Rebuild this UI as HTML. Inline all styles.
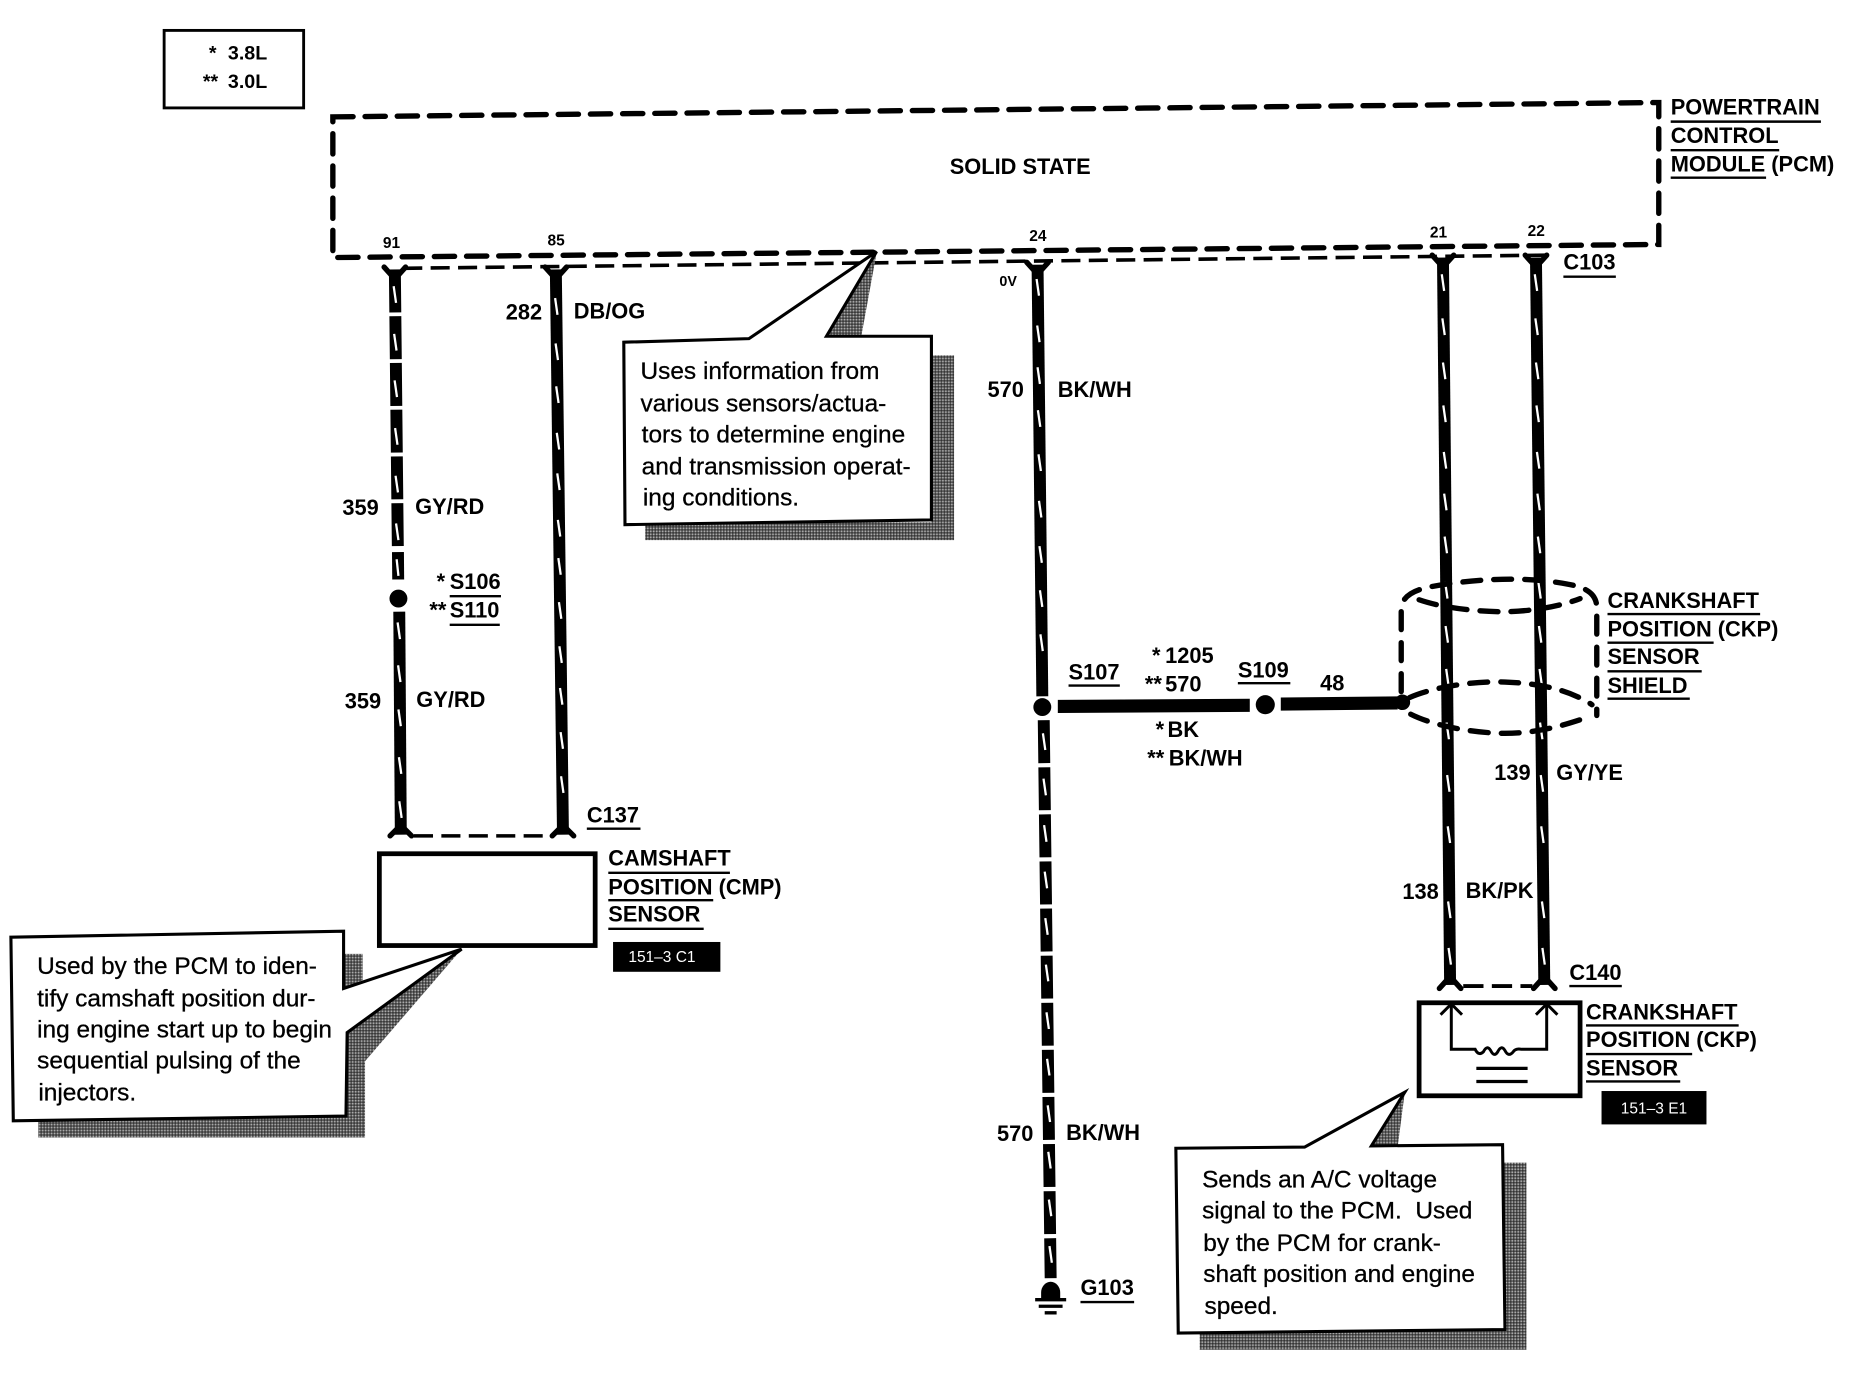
<!DOCTYPE html>
<html><head><meta charset="utf-8"><title>Crankshaft and Camshaft Position Sensor Wiring</title>
<style>
html,body{margin:0;padding:0;background:#fff}
svg{display:block}
text{font-family:"Liberation Sans",Arial,sans-serif;fill:#000}
.b{font-weight:bold;font-size:18.3px}
.r{font-size:20.5px;stroke:#000;stroke-width:.25}
.p{font-weight:bold;font-size:13px}
.w{fill:#fff;font-size:13px}
.u{stroke:#000;stroke-width:2;fill:none}
.wire{stroke:#000;stroke-width:10;fill:none}
.sl{stroke:#fff;stroke-width:1.9;fill:none}
.pcm{stroke:#000;stroke-width:4.5;fill:none;stroke-dasharray:17 10;stroke-linecap:round}
.thin{stroke:#000;stroke-width:3;fill:none;stroke-dasharray:16 7}
.sh{stroke:#000;stroke-width:4.5;fill:none;stroke-dasharray:15 11;stroke-linecap:round}
.j{stroke:#000;stroke-width:4.5;fill:none;stroke-linecap:round}
.box{stroke:#000;stroke-width:2.6;fill:#fff}
</style></head><body>
<svg xmlns="http://www.w3.org/2000/svg" width="1870" height="1376" viewBox="0 0 1568 1154">
<defs>
<pattern id="d" width="2.5" height="2.5" patternUnits="userSpaceOnUse">
<rect width="2.5" height="2.5" fill="#555"/><rect width="1.25" height="1.25" fill="#aaa"/><rect x="1.25" y="1.25" width="1.25" height="1.25" fill="#333"/>
</pattern>
</defs>
<rect width="1568" height="1154" fill="#fff"/>

<!-- legend -->
<rect x="137.500" y="25.500" width="117" height="65" fill="none" stroke="#000" stroke-width="2.4"/>
<text class="b" style="font-size:16.500px" x="175" y="50">*</text><text class="b" style="font-size:16.500px" x="191" y="50">3.8L</text>
<text class="b" style="font-size:16.500px" x="170" y="74">**</text><text class="b" style="font-size:16.500px" x="191" y="74">3.0L</text>

<!-- PCM -->
<path class="pcm" d="M279,98 L1391,86 L1391,205 L279,216 Z"/>
<path class="thin" d="M338,225 L1296,214"/>
<text class="b" x="855.500" y="146" text-anchor="middle">SOLID STATE</text>
<text class="b" x="1401" y="96">POWERTRAIN</text><path class="u" d="M1401,102H1527"/>
<text class="b" x="1401" y="120">CONTROL</text><path class="u" d="M1401,126H1492"/>
<text class="b" x="1401" y="144">MODULE (PCM)</text><path class="u" d="M1401,149H1481"/>
<text class="p" x="321" y="208">91</text><text class="p" x="459" y="206">85</text>
<text class="p" x="863" y="202">24</text><text class="p" x="1199" y="199">21</text><text class="p" x="1281" y="198">22</text>
<text class="p" style="font-size:12px" x="838" y="240">0V</text>
<text class="b" x="1311" y="226">C103</text><path class="u" d="M1311,232H1355"/>

<!-- wires -->
<path class="wire" stroke-dasharray="36 3.200" d="M331,226 L333.500,460"/>
<path class="wire" d="M333.600,463 L333.800,486"/>
<circle cx="334" cy="502" r="7.500"/>
<path class="wire" d="M334.700,513 L336,700"/>
<path class="sl" d="M330,240 l2,14 M330.400,280 l2,14 M330.800,319 l2,14 M331.200,359 l2,14 M331.600,399 l2,14 M332,439 l2,14 M332.500,469 l1.500,14 M333.300,522 l2,14 M333.700,558 l2,14 M334,595 l2,14 M334.400,635 l2,14 M334.700,672 l2,14"/>
<path class="wire" d="M466,226 L472,700"/>
<path class="sl" d="M465.400,250 l2,14 M465.800,288 l2,14 M466.300,324 l2,14 M466.800,363 l2,14 M467.200,397 l2,14 M467.700,436 l2,14 M468.100,468 l2,14 M468.600,505 l2,14 M469,542 l2,14 M469.500,577 l2,14 M470,614 l2,14 M470.400,651 l2,14"/>
<path class="wire" d="M870,222 L874,584"/>
<path class="sl" d="M869.200,234 l2,14 M869.700,273 l2,14 M870,308 l2,14 M870.300,344 l2,14 M870.800,381 l2,14 M871.200,420 l2,14 M871.600,458 l2,14 M872,495 l2,14 M872.400,532 l2,14"/>
<circle cx="874" cy="593" r="7.500"/>
<path class="wire" stroke-dasharray="36 3.500" d="M875.200,604 L881,1072"/>
<path class="sl" d="M874.500,615 l2,14 M875,653 l2,14 M875.500,692 l2,14 M876,731 l2,14 M876.500,770 l2,14 M877,809 l2,14 M877.500,849 l2,14 M878,888 l2,14 M878.500,927 l2,14 M879,966 l2,14 M879.500,1006 l2,14 M880,1045 l2,14"/>
<path d="M873,1090 V1084 a8,9 0 0 1 16,0 V1090 Z"/>
<path d="M868,1090h26M871,1095.500h20M876,1101h10" stroke="#000" stroke-width="2.800" fill="none"/>
<path class="wire" d="M1210,216 L1216,826"/>
<path class="sl" d="M1209,230 l2,14 M1209.500,267 l2,14 M1210,304 l2,14 M1210.300,340 l2,14 M1210.700,379 l2,14 M1211,414 l2,14 M1211.400,450 l2,14 M1211.800,488 l2,14 M1212.200,525 l2,14 M1212.700,561 l2,14 M1213,606 l2,14 M1213.500,650 l2,14 M1214,693 l2,14 M1214.300,756 l2,14 M1214.700,795 l2,14"/>
<path class="wire" d="M1288,216 L1295,826"/>
<path class="sl" d="M1287,230 l2,14 M1287.500,267 l2,14 M1288,304 l2,14 M1288.400,340 l2,14 M1288.800,379 l2,14 M1289.200,414 l2,14 M1289.600,450 l2,14 M1290,488 l2,14 M1290.500,525 l2,14 M1291,561 l2,14 M1291.400,606 l2,14 M1292,650 l2,14 M1292.400,693 l2,14 M1293,756 l2,14 M1293.400,795 l2,14"/>

<!-- top junctions -->
<path class="j" d="M322,224 L331,234 L340,224 M457,224 L466,234 L475,224 M861,220 L870,230 L879,220 M1201,214 L1210,224 L1219,214 M1279,214 L1288,224 L1297,214"/>
<!-- bottom feet -->
<path class="j" d="M327,701 L336,692 L345,701 M463,701 L472,692 L481,701 M1207,829 L1216,819 L1225,829 M1286,829 L1295,819 L1304,829"/>
<path class="thin" d="M347,701H462"/>
<path class="thin" style="stroke-width:3.200;stroke-dasharray:17 7" d="M1227,827H1285"/>

<!-- horizontal branch -->
<path d="M887,587 L1048,586 L1048,597 L887,598 Z"/>
<circle cx="1061" cy="591" r="8"/>
<path d="M1074,585 L1172,584 L1172,595 L1074,596 Z"/>
<circle cx="1176" cy="589" r="6.500"/>

<!-- shield -->
<path class="sh" d="M1175,580 L1175,510 C1176,498 1190,494 1200,492 C1250,483 1290,485 1315,490 C1332,493 1339,499 1339,510 L1339,600"/>
<path class="sh" d="M1190,503 C1210,510 1240,513 1260,513 C1285,513 1310,508 1325,502"/>
<path class="sh" d="M1182,585 C1205,575 1240,571 1262,572 C1290,573 1315,578 1335,591"/>
<path class="sh" d="M1183,599 C1205,610 1240,615 1262,615 C1290,615 1312,608 1330,602"/>

<!-- wire labels -->
<text class="b" x="424" y="268">282</text><text class="b" x="481" y="267">DB/OG</text>
<text class="b" x="828" y="333">570</text><text class="b" x="887" y="333">BK/WH</text>
<text class="b" x="287" y="432">359</text><text class="b" x="348" y="431">GY/RD</text>
<text class="b" x="366" y="494">*</text><text class="b" x="377" y="494">S106</text><path class="u" d="M377,500H420"/>
<text class="b" x="360" y="518">**</text><text class="b" x="377" y="518">S110</text><path class="u" d="M377,524H419"/>
<text class="b" x="289" y="594">359</text><text class="b" x="349" y="593">GY/RD</text>
<text class="b" x="896" y="570">S107</text><path class="u" d="M896,575H939"/>
<text class="b" x="966" y="556">*</text><text class="b" x="977" y="556">1205</text>
<text class="b" x="960" y="580">**</text><text class="b" x="977" y="580">570</text>
<text class="b" x="1038" y="568">S109</text><path class="u" d="M1038,573H1082"/>
<text class="b" x="1107" y="579">48</text>
<text class="b" x="969" y="618">*</text><text class="b" x="979" y="618">BK</text>
<text class="b" x="962" y="642">**</text><text class="b" x="980" y="642">BK/WH</text>
<text class="b" x="1348" y="510">CRANKSHAFT</text><path class="u" d="M1348,515H1476"/>
<text class="b" x="1348" y="534">POSITION (CKP)</text><path class="u" d="M1348,539H1437"/>
<text class="b" x="1348" y="557">SENSOR</text><path class="u" d="M1348,563H1427"/>
<text class="b" x="1348" y="581">SHIELD</text><path class="u" d="M1348,586H1417"/>
<text class="b" x="1253" y="654">139</text><text class="b" x="1305" y="654">GY/YE</text>
<text class="b" x="1176" y="754">138</text><text class="b" x="1229" y="753">BK/PK</text>
<text class="b" x="836" y="957">570</text><text class="b" x="894" y="956">BK/WH</text>
<text class="b" x="906" y="1086">G103</text><path class="u" d="M906,1092H951"/>
<text class="b" x="492" y="690">C137</text><path class="u" d="M492,695H537"/>
<text class="b" x="1316" y="822">C140</text><path class="u" d="M1316,827H1360"/>

<!-- CMP sensor -->
<rect x="318" y="716" width="181" height="77" fill="#fff" stroke="#000" stroke-width="4"/>
<text class="b" x="510" y="726">CAMSHAFT</text><path class="u" d="M510,732H612"/>
<text class="b" x="510" y="750">POSITION (CMP)</text><path class="u" d="M510,755H598"/>
<text class="b" x="510" y="773">SENSOR</text><path class="u" d="M510,779H590"/>
<rect x="514" y="790" width="90" height="25"/>
<text class="w" x="555" y="807" text-anchor="middle">151–3 C1</text>

<!-- CKP sensor -->
<rect x="1190" y="841" width="135" height="78" fill="#fff" stroke="#000" stroke-width="4"/>
<path d="M1217,842V880H1237 q3,6 7,2 q3,-6 6,-1 q3,6 6,1 q3,-6 6,-1 q3,6 7,1 q2,-3 7,-2 H1297V842" fill="none" stroke="#000" stroke-width="2.500"/>
<path d="M1208,851L1217,842L1226,851M1288,851L1297,842L1306,851" fill="none" stroke="#000" stroke-width="2.500"/>
<path d="M1238,896H1281M1238,907H1281" stroke="#000" stroke-width="2.800"/>
<text class="b" x="1330" y="855">CRANKSHAFT</text><path class="u" d="M1330,860H1458"/>
<text class="b" x="1330" y="878">POSITION (CKP)</text><path class="u" d="M1330,884H1419"/>
<text class="b" x="1330" y="902">SENSOR</text><path class="u" d="M1330,907H1409"/>
<rect x="1343" y="915" width="88" height="28"/>
<text class="w" x="1387" y="934" text-anchor="middle">151–3 E1</text>

<!-- callout 1 -->
<path fill="url(#d)" d="M735,212 L693,283 L722,283 Z M781,298 H800 V453 H541 V438 H781 Z"/>
<path class="box" d="M523,287 L628,284 L735,211 L693,282 L781,282 L781,436 L524,440 Z"/>
<text class="r" x="537" y="318">Uses information from</text>
<text class="r" x="537" y="345">various sensors/actua-</text>
<text class="r" x="538" y="371">tors to determine engine</text>
<text class="r" x="538" y="398">and transmission operat-</text>
<text class="r" x="539" y="424">ing conditions.</text>

<!-- callout 2 -->
<path fill="url(#d)" d="M288,800 H304 V822 L288,829 Z M387,796 L306,890 V954 H32 V936 H290 V866 Z"/>
<path class="box" d="M9,786 L288,781 L288,829 L387,796 L291,866 L290,936 L11,940 Z"/>
<text class="r" x="31" y="817">Used by the PCM to iden-</text>
<text class="r" x="31" y="844">tify camshaft position dur-</text>
<text class="r" x="31" y="870">ing engine start up to begin</text>
<text class="r" x="31" y="896">sequential pulsing of the</text>
<text class="r" x="32" y="923">injectors.</text>

<!-- callout 3 -->
<path fill="url(#d)" d="M1178,916 L1150,962 L1172,962 Z M1260,975 H1280 V1132 H1006 V1116 H1262 Z"/>
<path class="box" d="M986,963 L1094,962 L1178,916 L1150,961 L1260,960 L1262,1115 L988,1118 Z"/>
<text class="r" x="1008" y="996">Sends an A/C voltage</text>
<text class="r" x="1008" y="1022">signal to the PCM.&#160; Used</text>
<text class="r" x="1009" y="1049">by the PCM for crank-</text>
<text class="r" x="1009" y="1075">shaft position and engine</text>
<text class="r" x="1010" y="1102">speed.</text>
</svg>
</body></html>
